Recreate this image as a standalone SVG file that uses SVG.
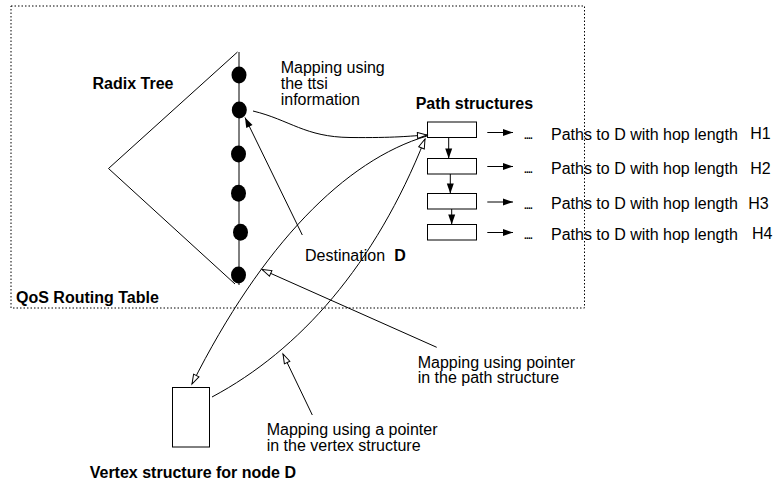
<svg xmlns="http://www.w3.org/2000/svg" width="774" height="484" viewBox="0 0 774 484">
<style>
text{font-family:"Liberation Sans",Arial,Helvetica,sans-serif;font-size:16px;fill:#000}
.b{font-weight:bold}
.dots{font-weight:bold;font-size:10px;letter-spacing:-0.8px}
.ln{fill:none;stroke:#000;stroke-width:1}
.box{fill:#fff;stroke:#000;stroke-width:1}
.fa{marker-end:url(#fill)}
.ha{marker-end:url(#hollow)}
</style>
<defs>
<marker id="fill" markerUnits="userSpaceOnUse" markerWidth="12" markerHeight="8" refX="10" refY="3.5" orient="auto" overflow="visible">
<path d="M0,0 L10,3.5 L0,7 Z" fill="#000"/>
</marker>
<marker id="hollow" markerUnits="userSpaceOnUse" markerWidth="12" markerHeight="8" refX="10" refY="3.5" orient="auto" overflow="visible">
<path d="M0.5,0.5 L10,3.5 L0.5,6.5 Z" fill="#fff" stroke="#000" stroke-width="1"/>
</marker>
</defs>
<rect id="qos-table" x="11" y="6" width="573.5" height="302" fill="none" stroke="#000" stroke-width="1" stroke-dasharray="1.5,2"/>
<text class="b" x="16" y="303">QoS Routing Table</text>
<g id="radix-tree">
<path class="ln" d="M237.5,52 L108.5,168.5 L235,284"/>
<line class="ln" x1="239" y1="52" x2="239" y2="285"/>
<ellipse cx="239" cy="75" rx="7.5" ry="8.5"/>
<ellipse cx="239.3" cy="110" rx="7.5" ry="8.5"/>
<ellipse cx="238.5" cy="154" rx="7.5" ry="8.5"/>
<ellipse cx="238.5" cy="193.3" rx="7.5" ry="8.5"/>
<ellipse cx="240.5" cy="232.3" rx="7.5" ry="8.5"/>
<ellipse cx="238.5" cy="275" rx="7.5" ry="8.5"/>
<text class="b" x="92.5" y="89">Radix Tree</text>
</g>
<g id="path-structures">
<text class="b" x="415.7" y="109.3">Path structures</text>
<rect class="box" x="427.5" y="122" width="49" height="15.5"/>
<rect class="box" x="427.5" y="158.5" width="49" height="15.5"/>
<rect class="box" x="427.5" y="193.5" width="49" height="15.5"/>
<rect class="box" x="427.5" y="224.5" width="49" height="15.5"/>
</g>
<g id="path-labels">
<text class="dots" x="524" y="139">....</text>
<text x="551" y="140">Paths to D with hop length</text>
<text x="750.3" y="139.3">H1</text>
<text class="dots" x="524" y="173">....</text>
<text x="551" y="174">Paths to D with hop length</text>
<text x="750.3" y="173.5">H2</text>
<text class="dots" x="524" y="208.5">....</text>
<text x="551" y="209">Paths to D with hop length</text>
<text x="748.3" y="208.7">H3</text>
<text class="dots" x="524" y="239">....</text>
<text x="551" y="239.5">Paths to D with hop length</text>
<text x="752" y="239.3">H4</text>
</g>
<g id="vertex-structure">
<rect class="box" x="172.5" y="387.5" width="37" height="59.5"/>
<text class="b" x="89.7" y="478.3">Vertex structure for node D</text>
</g>
<g id="labels">
<text x="280.7" y="73.3">Mapping using</text>
<text x="280.7" y="89">the ttsi</text>
<text x="280.7" y="104.5">information</text>
<text x="305" y="261">Destination</text>
<text class="b" x="394.3" y="261">D</text>
<text x="417.7" y="367.7">Mapping using pointer</text>
<text x="417.7" y="383.3">in the path structure</text>
<text x="266.7" y="435">Mapping using a pointer</text>
<text x="266.7" y="450.5">in the vertex structure</text>
</g>
<g id="connectors">
<line class="ln fa" x1="448.7" y1="137.5" x2="448.7" y2="158.5"/>
<line class="ln fa" x1="450.3" y1="174" x2="450.3" y2="193.5"/>
<line class="ln fa" x1="451.7" y1="209" x2="451.7" y2="224.5"/>
<line class="ln fa" x1="487.3" y1="132.5" x2="513" y2="132.5"/>
<line class="ln fa" x1="487.3" y1="166.5" x2="513" y2="166.5"/>
<line class="ln fa" x1="487.3" y1="202" x2="513" y2="202"/>
<line class="ln fa" x1="487.3" y1="232.5" x2="513" y2="232.5"/>
<path class="ln ha" d="M253,111 C290,120 305,137 350,137.5 S410,136 427,135"/>
<path class="ln fa" d="M302.3,235 L245,117.5"/>
<path class="ln ha" d="M427,136 C345,160 262,245 192,384"/>
<path class="ln ha" d="M212,397 C300,350 375,265 425,139"/>
<path class="ln ha" d="M436.7,347.3 L262,269.5"/>
<path class="ln ha" d="M312.3,415 L283,354"/>
</g>
</svg>
